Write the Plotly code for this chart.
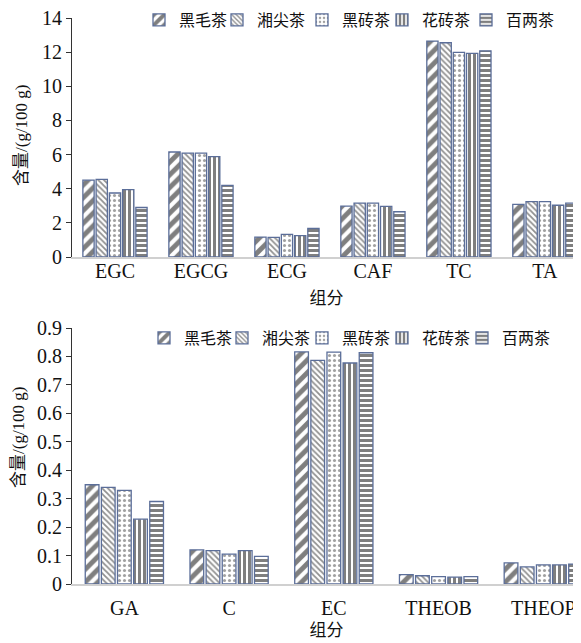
import plotly.graph_objects as go

series = ["黑毛茶", "湘尖茶", "黑砖茶", "花砖茶", "百两茶"]

cats_top = ["EGC", "EGCG", "ECG", "CAF", "TC", "TA"]
top_vals = {
    "黑毛茶": [4.50, 6.15, 1.17, 2.98, 12.65, 3.08],
    "湘尖茶": [4.55, 6.08, 1.15, 3.15, 12.55, 3.24],
    "黑砖茶": [3.75, 6.08, 1.33, 3.15, 11.99, 3.24],
    "花砖茶": [3.95, 5.88, 1.25, 2.97, 11.93, 3.03],
    "百两茶": [2.90, 4.20, 1.67, 2.65, 12.08, 3.16],
}

cats_bot = ["GA", "C", "EC", "THEOB", "THEOP"]
bot_vals = {
    "黑毛茶": [0.349, 0.120, 0.816, 0.033, 0.074],
    "湘尖茶": [0.340, 0.117, 0.786, 0.029, 0.060],
    "黑砖茶": [0.329, 0.105, 0.815, 0.026, 0.067],
    "花砖茶": [0.228, 0.117, 0.777, 0.024, 0.067],
    "百两茶": [0.290, 0.097, 0.813, 0.026, 0.070],
}

top_ticks = [0, 2, 4, 6, 8, 10, 12, 14]
bot_ticks = [0, 0.1, 0.2, 0.3, 0.4, 0.5, 0.6, 0.7, 0.8, 0.9]
bot_ticktext = ["0", "0.1", "0.2", "0.3", "0.4", "0.5", "0.6", "0.7", "0.8", "0.9"]
y_title = "含量/(g/100 g)"
x_title = "组分"

patterns = {
    "黑毛茶": dict(shape="/", size=9, solidity=0.55, fgcolor="#000000"),
    "湘尖茶": dict(shape="\\", size=4, solidity=0.45, fgcolor="#222222"),
    "黑砖茶": dict(shape=".", size=5, solidity=0.3, fgcolor="#444444"),
    "花砖茶": dict(shape="|", size=5, solidity=0.6, fgcolor="#000000"),
    "百两茶": dict(shape="-", size=5, solidity=0.6, fgcolor="#000000"),
}
border = "#5b6e99"

# legend text left positions (page px) for the two panels
leg_top_px = [180, 258, 343, 423, 507]
leg_bot_px = [185, 263, 343, 423, 503]

fig = go.Figure()
for i, s in enumerate(series):
    fig.add_trace(go.Bar(
        x=cats_top, y=top_vals[s], name=s, xaxis="x", yaxis="y",
        marker=dict(color="white", line=dict(color=border, width=1.3),
                    pattern=dict(fillmode="overlay", bgcolor="white", **patterns[s])),
        legend="legend" if i == 0 else f"legend{i + 1}",
    ))
for i, s in enumerate(series):
    fig.add_trace(go.Bar(
        x=cats_bot, y=bot_vals[s], name=s, xaxis="x2", yaxis="y2",
        marker=dict(color="white", line=dict(color=border, width=1.3),
                    pattern=dict(fillmode="overlay", bgcolor="white", **patterns[s])),
        legend=f"legend{i + 6}",
    ))

serif = "Liberation Serif, Times New Roman, serif"
mixed = "Liberation Serif, Noto Sans CJK SC"
cjk = "Noto Sans CJK SC"
tickfont = dict(family=serif, size=20, color="#111")
titlefont = dict(family=mixed, size=17, color="#111")

# page has an 8px body margin; size the figure so it fills the 581x643 window
OFF = 8
W, H = 581 - OFF, 643 - OFF
L_PAGE = 72
L = L_PAGE - OFF
PW = W - L
def py(p):
    return 1 - (p - OFF) / H
def px(p):
    return (p - L_PAGE) / PW

legend_common = dict(
    orientation="h", xanchor="left", yanchor="middle",
    font=dict(family=cjk, size=16, color="#111"),
    bgcolor="rgba(0,0,0,0)", itemwidth=30,
)

layout_legends = {}
for i in range(5):
    key = "legend" if i == 0 else f"legend{i + 1}"
    layout_legends[key] = dict(x=px(leg_top_px[i] - 41), y=py(20), **legend_common)
    layout_legends[f"legend{i + 6}"] = dict(x=px(leg_bot_px[i] - 41), y=py(338), **legend_common)

fig.update_layout(
    width=W, height=H,
    margin=dict(l=L, r=0, t=0, b=0, autoexpand=False),
    paper_bgcolor="white", plot_bgcolor="white",
    barmode="group", bargap=0.23, bargroupgap=0.15,
    showlegend=True,
    xaxis=dict(domain=[0, 1], anchor="y", range=[-0.5, 5.42],
               showline=True, linecolor="#d0d0d0", linewidth=1.5,
               ticks="", tickfont=tickfont, showgrid=False, ticklabelstandoff=-5,
               ticklabeloverflow="allow",
               title=dict(text=x_title, font=titlefont, standoff=11)),
    yaxis=dict(domain=[py(257), py(18)], anchor="x", range=[0, 14],
               tickmode="array", tickvals=top_ticks, ticklabeloverflow="allow",
               showline=True, linecolor="#333", linewidth=1, ticks="outside", ticklen=5,
               tickcolor="#333", tickfont=tickfont, showgrid=False, zeroline=False),
    xaxis2=dict(domain=[0, 1], anchor="y2", range=[-0.5, 4.36],
                showline=True, linecolor="#d0d0d0", linewidth=1.5,
                ticks="", tickfont=tickfont, showgrid=False, ticklabelstandoff=5,
                ticklabeloverflow="allow",
                title=dict(text=x_title, font=titlefont, standoff=6)),
    yaxis2=dict(domain=[py(584), py(328)], anchor="x2", range=[0, 0.9],
                tickmode="array", tickvals=bot_ticks, ticktext=bot_ticktext,
                ticklabeloverflow="allow",
                showline=True, linecolor="#333", linewidth=1, ticks="outside", ticklen=5,
                tickcolor="#333", tickfont=tickfont, showgrid=False, zeroline=False),
    annotations=[
        dict(text=y_title, textangle=-90, xref="paper", yref="paper",
             x=px(22), y=py(135), xanchor="center", yanchor="middle",
             showarrow=False, font=titlefont),
        dict(text=y_title, textangle=-90, xref="paper", yref="paper",
             x=px(18), y=py(437), xanchor="center", yanchor="middle",
             showarrow=False, font=titlefont),
    ],
    **layout_legends,
)

fig.write_html("out.html")
